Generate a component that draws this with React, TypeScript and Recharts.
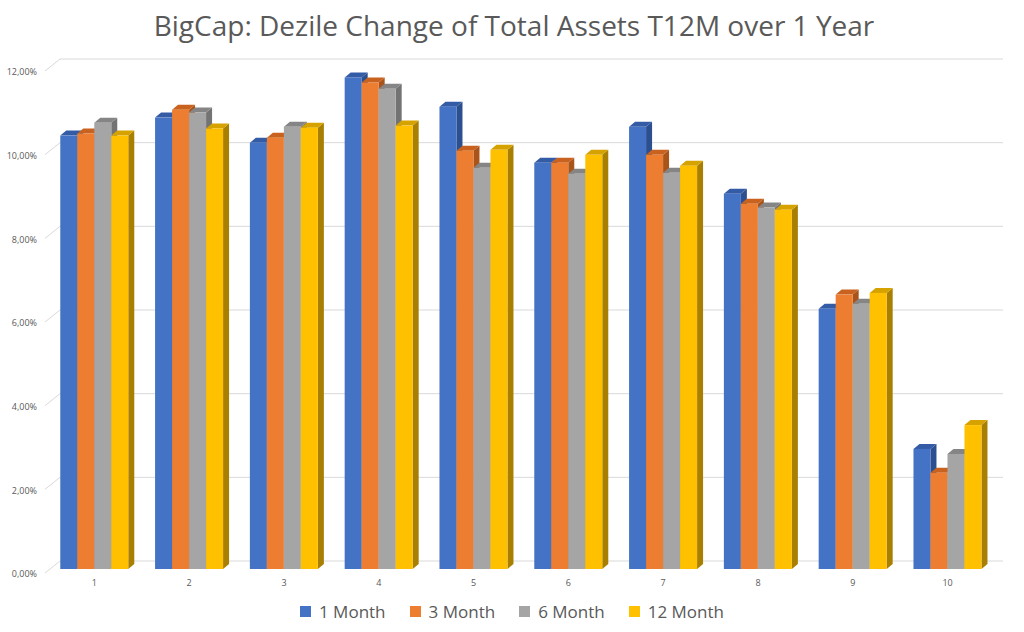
import React from 'react';
import { BarChart, Bar, XAxis, YAxis, CartesianGrid } from 'recharts';

const categories = ['1', '2', '3', '4', '5', '6', '7', '8', '9', '10'];
const oneMonth = [10.36, 10.79, 10.19, 11.75, 11.05, 9.71, 10.57, 8.97, 6.22, 2.87];
const threeMonth = [10.41, 10.98, 10.31, 11.63, 10.0, 9.71, 9.9, 8.73, 6.56, 2.3];
const sixMonth = [10.67, 10.91, 10.57, 11.48, 9.59, 9.45, 9.47, 8.64, 6.34, 2.75];
const twelveMonth = [10.36, 10.53, 10.55, 10.6, 10.02, 9.9, 9.64, 8.59, 6.6, 3.44];
const yTicks = [0, 2, 4, 6, 8, 10, 12];

const seriesNames = ['1 Month', '3 Month', '6 Month', '12 Month'];
const seriesKeys = ['m1', 'm3', 'm6', 'm12'];
const colors = ['#4472C4', '#ED7D31', '#A5A5A5', '#FFC000'];
const topColors = ['#345BA5', '#C9621E', '#858585', '#D6A200'];
const sideColors = ['#2C4F8F', '#A95419', '#737373', '#A87F00'];

const data = categories.map((c, i) => ({
  name: c,
  m1: oneMonth[i],
  m3: threeMonth[i],
  m6: sixMonth[i],
  m12: twelveMonth[i],
}));

const DX = 6;
const DY = 5;

const make3D = (idx: number) => (props: any) => {
  const { x, y, width, height } = props;
  if (height == null || width == null) return null;
  return (
    <g>
      <polygon
        points={`${x + width},${y} ${x + width + DX},${y - DY} ${x + width + DX},${y + height - DY} ${x + width},${y + height}`}
        fill={sideColors[idx]}
      />
      <polygon
        points={`${x},${y} ${x + DX},${y - DY} ${x + width + DX},${y - DY} ${x + width},${y}`}
        fill={topColors[idx]}
      />
      <rect x={x} y={y} width={width} height={height} fill={colors[idx]} />
    </g>
  );
};

const gridLine = (props: any) => {
  const { x1, y1, x2, key } = props;
  const fx = x1 - 2;
  const fy = y1 + 4;
  const bx = fx + 15;
  const by = fy - 12;
  return (
    <path
      key={key}
      d={`M${fx},${fy} L${bx},${by} L${x2 + 8},${by}`}
      stroke="#D9D9D9"
      strokeWidth={1}
      fill="none"
    />
  );
};

const fmt = (v: number) => v.toFixed(2).replace('.', ',') + '%';

export default function App() {
  return (
    <div style={{ position: 'absolute', left: 0, top: 0, width: 1024, height: 632, background: '#fff' }}>
      <div
        style={{
          position: 'absolute',
          left: 0,
          top: 6,
          width: 1024,
          textAlign: 'center',
          fontFamily: '"Open Sans", sans-serif',
          fontSize: 28,
          color: '#595959',
          paddingLeft: 2,
        }}
      >
        BigCap: Dezile Change of Total Assets T12M over 1 Year
      </div>
      <BarChart
        width={1024}
        height={632}
        data={data}
        margin={{ top: 67, right: 29, left: 0, bottom: 43 }}
        barCategoryGap="14%"
        barGap={0}
      >
        <CartesianGrid vertical={false} horizontal={gridLine} />
        <XAxis
          dataKey="name"
          axisLine={false}
          tickLine={false}
          height={20}
          tick={{ fontSize: 9, fill: '#595959', fontFamily: '"Open Sans", sans-serif', dy: 3 }}
        />
        <YAxis
          width={47}
          domain={[0, 12]}
          ticks={yTicks}
          axisLine={false}
          tickLine={false}
          tickFormatter={fmt}
          tick={{ fontSize: 9, fill: '#595959', fontFamily: '"Open Sans", sans-serif', dy: 5, dx: -2 }}
        />
        {seriesKeys.map((k, i) => (
          <Bar key={k} dataKey={k} name={seriesNames[i]} fill={colors[i]} isAnimationActive={false} shape={make3D(i)} />
        ))}
      </BarChart>
      <div
        style={{
          position: 'absolute',
          left: 0,
          top: 600,
          width: 1024,
          display: 'flex',
          justifyContent: 'center',
          gap: 24,
          fontFamily: '"Open Sans", sans-serif',
          fontSize: 17,
          color: '#595959',
          paddingLeft: 0,
        }}
      >
        {seriesNames.map((n, i) => (
          <div key={n} style={{ display: 'flex', alignItems: 'center' }}>
            <span style={{ display: 'inline-block', width: 11, height: 11, background: colors[i], marginRight: 8 }} />
            <span>{n}</span>
          </div>
        ))}
      </div>
    </div>
  );
}
